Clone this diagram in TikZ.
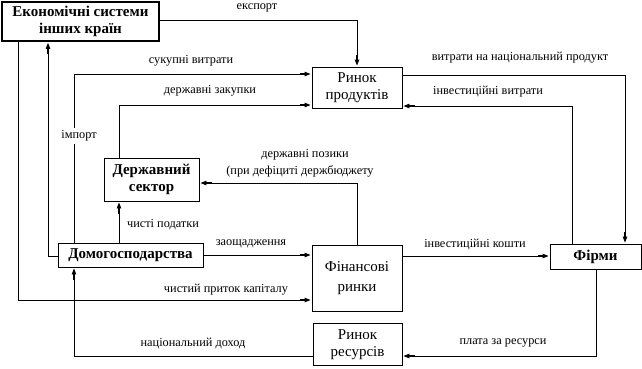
\documentclass[tikz,border=0pt]{standalone}
\usepackage{fontspec}
\setmainfont{Liberation Serif}
\usetikzlibrary{arrows.meta}
\begin{document}
\begin{tikzpicture}[x=1pt,y=-1pt,
  box/.style={draw, line width=0.9pt, inner sep=0pt, align=center, font=\fontsize{15}{17}\selectfont},
  bbox/.style={box, font=\fontsize{15}{17.5}\selectfont\bfseries},
  lbl/.style={inner sep=0pt, font=\fontsize{12.3}{15}\selectfont},
  flow/.style={line width=0.9pt, -{Rectangle[length=5pt,width=2.5pt]Triangle[length=6pt,width=4.5pt]}, shorten >=1pt}]
\useasboundingbox (0,0) rectangle (642,368);
% boxes
\node[bbox, line width=1.8pt, minimum width=157pt, minimum height=39pt] (ek) at (80.5,21.5) {Економічні системи\\інших країн};
\node[box, minimum width=90pt, minimum height=41pt] (rp) at (357,87.5) {Ринок\\продуктів};
\node[bbox, minimum width=95pt, minimum height=43pt] (ds) at (151.5,179.5) {Державний\\сектор};
\node[bbox, minimum width=145pt, minimum height=24pt] (hh) at (130.5,255) {Домогосподарства};
\node[box, minimum width=90pt, minimum height=66pt, font=\fontsize{15}{20}\selectfont] (fr) at (357,278) {Фінансові\\ринки};
\node[bbox, minimum width=91pt, minimum height=25pt] (firm) at (595.5,256.5) {Фірми};
\node[box, minimum width=89pt, minimum height=42pt] (rr) at (357.5,344.5) {Ринок\\ресурсів};
% connectors
\draw[flow] (ek.east |- 0,20) -| (rp.north);
\draw[flow] (hh.north -| 74,0) |- (rp.west |- 0,74);
\draw[flow] (ds.north -| 119,0) |- (rp.west |- 0,105);
\draw[flow] (hh.north -| 119,0) -- (ds.south -| 119,0);
\draw[flow] (hh.west |- 0,256) -| (ek.south -| 48,0);
\draw[flow] (ek.south -| 18,0) |- (fr.west |- 0,300);
\draw[flow] (fr.north) |- (ds.east |- 0,183);
\draw[flow] (hh.east |- 0,255) -- (fr.west |- 0,255);
\draw[flow] (fr.east |- 0,256) -- (firm.west |- 0,256);
\draw[flow] (rp.east |- 0,75) -| (firm.north -| 625,0);
\draw[flow] (firm.north -| 572,0) |- (rp.east |- 0,106);
\draw[flow] (firm.south -| 596,0) |- (rr.east |- 0,356);
\draw[flow] (rr.west |- 0,356) -| (hh.south -| 74,0);
% labels
\node[lbl] (l1) at (257,8) {експорт};
\node[lbl] (l2) at (191,61) {сукупні витрати};
\node[lbl] (l3) at (210,91) {державні закупки};
\node[lbl] (l4) at (520,58) {витрати на національний продукт};
\node[lbl] (l5) at (488,92) {інвестиційні витрати};
\node[lbl, fill=white, inner sep=3pt] (l6) at (79,136) {імпорт};
\node[lbl] (l7) at (305,155) {державні позики};
\node[lbl] (l8) at (300,171) {(при дефіциті держбюджету};
\node[lbl] (l9) at (163,225) {чисті податки};
\node[lbl] (l10) at (251,244) {заощадження};
\node[lbl] (l11) at (475,244) {інвестиційні кошти};
\node[lbl] (l12) at (226,290) {чистий приток капіталу};
\node[lbl] (l13) at (193,343) {національний доход};
\node[lbl] (l14) at (503,343) {плата за ресурси};
\end{tikzpicture}
\end{document}
